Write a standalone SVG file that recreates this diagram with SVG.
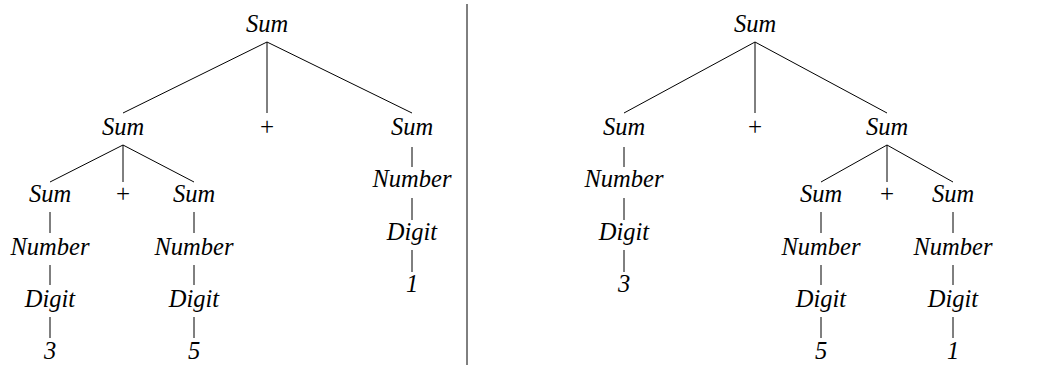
<svg xmlns="http://www.w3.org/2000/svg" width="1045" height="365" viewBox="0 0 1045 365">
<style>
text{font-family:"Liberation Serif","Times New Roman",serif;font-size:24.5px;font-style:italic;text-anchor:middle;fill:#000}
text.op{font-style:normal;font-size:25px}
line{stroke:#000;stroke-width:1}
</style>
<rect width="1045" height="365" fill="#fff"/>
<g id="connectors">
<line x1="467" y1="4" x2="467" y2="365" stroke-width="1.3"/>
<line x1="267" y1="42" x2="123" y2="113"/>
<line x1="267" y1="42" x2="267" y2="113"/>
<line x1="267" y1="42" x2="412" y2="113"/>
<line x1="123" y1="145" x2="50" y2="182"/>
<line x1="123" y1="145" x2="123" y2="182"/>
<line x1="123" y1="145" x2="194" y2="182"/>
<line x1="50" y1="212" x2="50" y2="233"/>
<line x1="50" y1="265" x2="50" y2="285"/>
<line x1="50" y1="317" x2="50" y2="338"/>
<line x1="194" y1="212" x2="194" y2="233"/>
<line x1="194" y1="265" x2="194" y2="285"/>
<line x1="194" y1="317" x2="194" y2="338"/>
<line x1="412" y1="147" x2="412" y2="167"/>
<line x1="412" y1="198" x2="412" y2="220"/>
<line x1="412" y1="250" x2="412" y2="272"/>
<line x1="755" y1="42" x2="624" y2="113"/>
<line x1="755" y1="42" x2="755" y2="113"/>
<line x1="755" y1="42" x2="887" y2="113"/>
<line x1="887" y1="145" x2="821" y2="182"/>
<line x1="887" y1="145" x2="887" y2="182"/>
<line x1="887" y1="145" x2="953" y2="182"/>
<line x1="624" y1="147" x2="624" y2="167"/>
<line x1="624" y1="198" x2="624" y2="220"/>
<line x1="624" y1="250" x2="624" y2="272"/>
<line x1="821" y1="212" x2="821" y2="233"/>
<line x1="821" y1="265" x2="821" y2="285"/>
<line x1="821" y1="317" x2="821" y2="338"/>
<line x1="953" y1="212" x2="953" y2="233"/>
<line x1="953" y1="265" x2="953" y2="285"/>
<line x1="953" y1="317" x2="953" y2="338"/>
</g>
<g id="left-tree">
<g id="l-root"><text x="267" y="32">Sum</text></g>
<g id="l-sum1"><text x="123" y="135">Sum</text></g>
<g id="l-plus1"><text class="op" x="267" y="135">+</text></g>
<g id="l-sum2"><text x="412" y="135">Sum</text></g>
<g id="l-sum11"><text x="50" y="202">Sum</text></g>
<g id="l-plus2"><text class="op" x="123" y="202">+</text></g>
<g id="l-sum12"><text x="194" y="202">Sum</text></g>
<g id="l-num11"><text x="50" y="255">Number</text></g>
<g id="l-dig11"><text x="50" y="307">Digit</text></g>
<g id="l-three"><text x="50" y="359">3</text></g>
<g id="l-num12"><text x="194" y="255">Number</text></g>
<g id="l-dig12"><text x="194" y="307">Digit</text></g>
<g id="l-five"><text x="194" y="359">5</text></g>
<g id="l-num2"><text x="412" y="187">Number</text></g>
<g id="l-dig2"><text x="412" y="240">Digit</text></g>
<g id="l-one"><text x="412" y="292">1</text></g>
</g>
<g id="right-tree">
<g id="r-root"><text x="755" y="32">Sum</text></g>
<g id="r-sum1"><text x="624" y="135">Sum</text></g>
<g id="r-plus1"><text class="op" x="755" y="135">+</text></g>
<g id="r-sum2"><text x="887" y="135">Sum</text></g>
<g id="r-num1"><text x="624" y="187">Number</text></g>
<g id="r-dig1"><text x="624" y="240">Digit</text></g>
<g id="r-three"><text x="624" y="292">3</text></g>
<g id="r-sum21"><text x="821" y="202">Sum</text></g>
<g id="r-plus2"><text class="op" x="887" y="202">+</text></g>
<g id="r-sum22"><text x="953" y="202">Sum</text></g>
<g id="r-num21"><text x="821" y="255">Number</text></g>
<g id="r-dig21"><text x="821" y="307">Digit</text></g>
<g id="r-five"><text x="821" y="359">5</text></g>
<g id="r-num22"><text x="953" y="255">Number</text></g>
<g id="r-dig22"><text x="953" y="307">Digit</text></g>
<g id="r-one"><text x="953" y="359">1</text></g>
</g>
</svg>
